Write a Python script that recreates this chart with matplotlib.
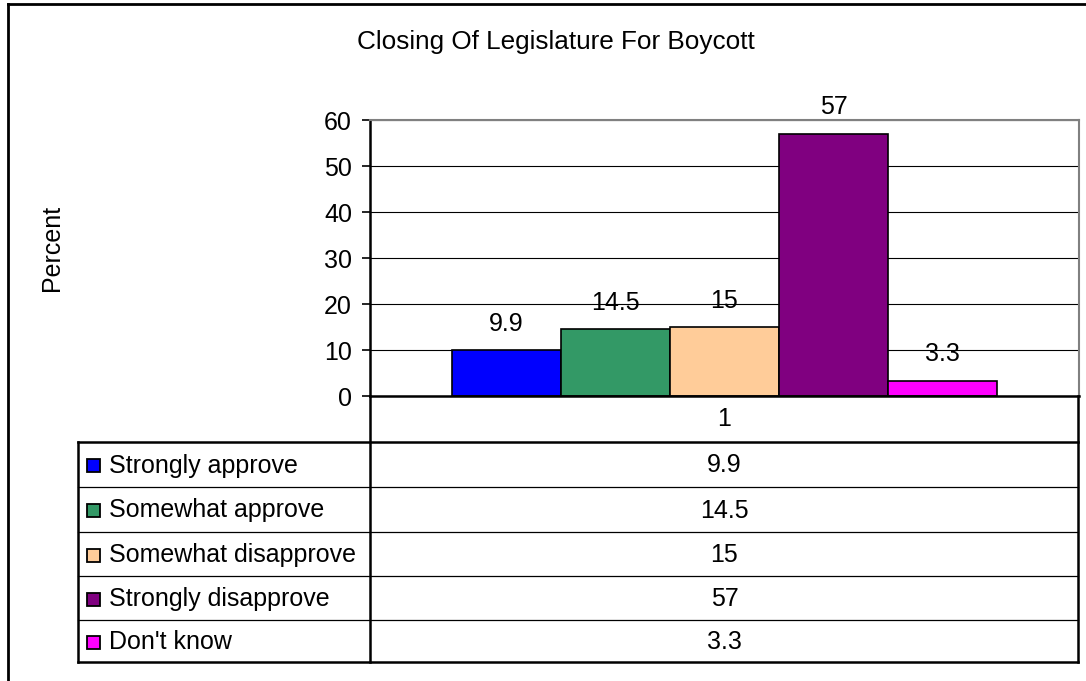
import matplotlib
matplotlib.use("Agg")
import matplotlib.pyplot as plt
from matplotlib.patches import Rectangle
from matplotlib.lines import Line2D

plt.rcParams['font.family'] = ['Liberation Sans', 'DejaVu Sans']

title = "Closing Of Legislature For Boycott"
ylabel = "Percent"
category = ["1"]
series = ["Strongly approve", "Somewhat approve", "Somewhat disapprove",
          "Strongly disapprove", "Don't know"]
values = [9.9, 14.5, 15, 57, 3.3]
value_labels = ["9.9", "14.5", "15", "57", "3.3"]
colors = ["#0000FF", "#339966", "#FFCC99", "#800080", "#FF00FF"]
yticks = [0, 10, 20, 30, 40, 50, 60]

W, H = 1086, 681
FS = 18
fig = plt.figure(figsize=(W / 100, H / 100), dpi=100)


def fx(x):
    return x / W


def fy(y):
    return 1 - y / H


# plot area in pixel coordinates
L, R, T, B = 370, 1079, 120, 396
ax = fig.add_axes([fx(L), fy(B), fx(R) - fx(L), fy(T) - fy(B)])

group = 0.77
bw = group / len(values)
for i, (v, c, lab) in enumerate(zip(values, colors, value_labels)):
    xpos = -group / 2 + bw * (i + 0.5)
    ax.bar(xpos, v, width=bw, color=c, edgecolor='black', linewidth=1.2, zorder=3)
    ax.annotate(lab, (xpos, v), xytext=(0, 19), textcoords='offset points',
                ha='center', va='center', fontsize=FS, zorder=4)

ax.set_xlim(-0.5, 0.5)
ax.set_ylim(yticks[0], yticks[-1])
ax.set_yticks(yticks)
ax.set_yticklabels([str(t) for t in yticks], fontsize=FS)
ax.set_xticks([])
ax.yaxis.grid(True, color='black', linewidth=0.8, zorder=0)
ax.set_axisbelow(True)
ax.tick_params(axis='y', direction='out', length=6, width=1.2, pad=7)
for s in ['top', 'right']:
    ax.spines[s].set_color('#808080')
    ax.spines[s].set_linewidth(1.5)
ax.spines['left'].set_linewidth(1.8)
ax.spines['bottom'].set_linewidth(1.8)
ax.spines['bottom'].set_zorder(5)

# title and axis label
fig.text(fx(556), fy(42), title, ha='center', va='center', fontsize=18.8)
fig.text(fx(52), fy(248), ylabel, ha='center', va='center', rotation=90, fontsize=FS)

# outer border (top and left only, image is cropped)
fig.add_artist(Line2D([fx(8), fx(8)], [fy(4), 0], transform=fig.transFigure,
                      color='black', linewidth=2))
fig.add_artist(Line2D([fx(8), 1], [fy(4), fy(4)], transform=fig.transFigure,
                      color='black', linewidth=2))

# data table
TL, TR = 78, 1078
row_top = 442
row_edges = [442, 487, 532, 576, 620, 662]
thick = 1.8
thin = 0.9


def hline(x0, x1, y, lw):
    fig.add_artist(Line2D([fx(x0), fx(x1)], [fy(y), fy(y)],
                          transform=fig.transFigure, color='black', linewidth=lw))


def vline(x, y0, y1, lw):
    fig.add_artist(Line2D([fx(x), fx(x)], [fy(y0), fy(y1)],
                          transform=fig.transFigure, color='black', linewidth=lw))


# category row
vline(TR, B, row_edges[-1], thick)
vline(L, B, row_edges[-1], thick)
hline(TL, TR, row_top, thick)
hline(TL, TR, row_edges[-1], thick)
vline(TL, row_top, row_edges[-1], thick)
fig.text(fx((L + R) / 2), fy((B + row_top) / 2), category[0], ha='center',
         va='center', fontsize=FS)

for k in range(1, len(row_edges) - 1):
    hline(TL, TR, row_edges[k], thin)

for i, (name, lab, c) in enumerate(zip(series, value_labels, colors)):
    y0, y1 = row_edges[i], row_edges[i + 1]
    yc = (y0 + y1) / 2 + 1
    sq = 13
    fig.add_artist(Rectangle((fx(87), fy(yc + sq / 2)), fx(sq), sq / H,
                             transform=fig.transFigure, facecolor=c,
                             edgecolor='black', linewidth=1.3))
    fig.text(fx(109), fy(yc), name, ha='left', va='center', fontsize=FS)
    fig.text(fx((L + R) / 2), fy(yc), lab, ha='center', va='center', fontsize=FS)

fig.savefig("out.png", dpi=100)
